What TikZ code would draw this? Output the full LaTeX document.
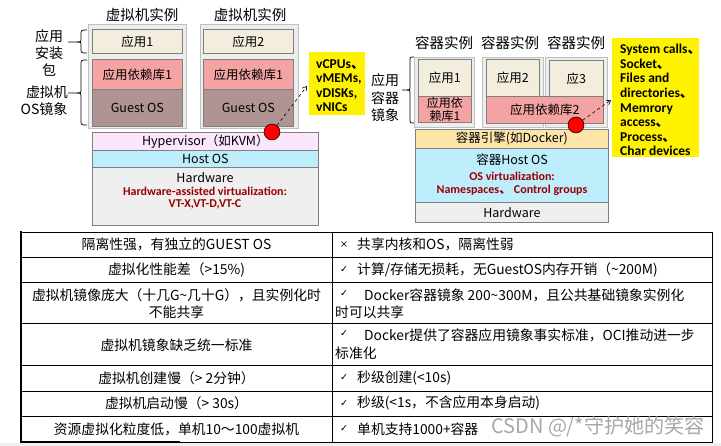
\documentclass[tikz,border=0pt]{standalone}
\usepackage{fontspec}
\setmainfont{Noto Sans CJK SC}
\newfontfamily\calfont{Carlito}
\newfontfamily\cjkfont{Noto Sans CJK SC}
\newfontfamily\symfont{DejaVu Sans}
\usetikzlibrary{arrows.meta}
\definecolor{outerfill}{HTML}{EDEDED}
\definecolor{outerline}{HTML}{C0C0C0}
\definecolor{appfill}{HTML}{F3EDDD}
\definecolor{depfill}{HTML}{F4A3A3}
\definecolor{guestfill}{HTML}{B09393}
\definecolor{hypfill}{HTML}{FCE6FC}
\definecolor{hostfill}{HTML}{BEEDFC}
\definecolor{hwfill}{HTML}{EFEFEF}
\definecolor{engfill}{HTML}{FDE5A9}
\definecolor{darkred}{HTML}{990000}
\definecolor{boxline}{HTML}{7F7F7F}
\definecolor{wmark}{HTML}{A8A8A8}
\tikzset{
  outer/.style={draw=outerline, fill=outerfill, line width=0.9pt, anchor=north west, inner sep=0pt},
  lyr/.style={draw=boxline, line width=0.7pt, anchor=north west, inner sep=0pt, align=center, font=\fontsize{12.5}{14}\selectfont},
  lab/.style={inner sep=0pt, font=\fontsize{14.5}{17}\selectfont},
  side/.style={inner sep=0pt, align=center, font=\fontsize{14}{17}\selectfont},
  ybox/.style={fill=yellow, draw=none, anchor=north west, inner sep=0pt},
  ytxt/.style={font=\calfont\bfseries\fontsize{13.5}{14.6}\selectfont, align=left, anchor=north west, inner sep=0pt},
  rtxt/.style={font=\calfont\bfseries\fontsize{12}{13}\selectfont, text=darkred, inner sep=0pt},
  dot/.style={circle, fill=red, draw=black, line width=0.5pt, minimum size=16pt, inner sep=0pt},
  ptr/.style={dashed, line width=0.6pt, -{Straight Barb[length=4pt,width=5pt]}},
  tline/.style={line width=0.8pt, draw=black},
  tb/.style={inner sep=0pt, font=\fontsize{13.8}{17}\selectfont},
  tbl/.style={tb, anchor=west},
  sym/.style={inner sep=0pt, font=\symfont\fontsize{9.5}{11}\selectfont},
}
\begin{document}
\begin{tikzpicture}[x=1pt,y=-1pt]
\fill[white] (0,0) rectangle (721,446);
\useasboundingbox (0,0) rectangle (721,446);
\fill[hwfill] (0,443) rectangle (721,446);

% ---------------- VM side ----------------
\node[lab] (vml1) at (142,15) {虚拟机实例};
\node[lab] (vml2) at (250,15) {虚拟机实例};
\node[outer, minimum width=98pt, minimum height=104pt] (vm1) at (88,24) {};
\node[outer, minimum width=98pt, minimum height=104pt] (vm2) at (200,24) {};
\node[lyr, fill=appfill, minimum width=90pt, minimum height=24pt] (app1) at (92,29) {应用1};
\node[lyr, fill=depfill, minimum width=90pt, minimum height=30pt] (dep1) at (92,59) {应用依赖库1};
\node[lyr, fill=guestfill, minimum width=90pt, minimum height=37pt] (gos1) at (92,89) {Guest OS};
\node[lyr, fill=appfill, minimum width=90pt, minimum height=24pt] (app2) at (203,29) {应用2};
\node[lyr, fill=depfill, minimum width=90pt, minimum height=30pt] (dep2) at (203,59) {应用依赖库1};
\node[lyr, fill=guestfill, minimum width=90pt, minimum height=37pt] (gos2) at (203,89) {Guest OS};
\node[lyr, fill=hypfill, minimum width=226pt, minimum height=18pt] (hyp) at (92,132) {Hypervisor（如KVM）};
\node[lyr, fill=hostfill, minimum width=226pt, minimum height=17pt] (host) at (92,150) {Host OS};
\node[lyr, fill=hwfill, minimum width=226pt, minimum height=58pt] (hw) at (92,167) {};
\node[inner sep=0pt, font=\fontsize{12.5}{14}\selectfont] (hwt) at (205,178) {Hardware};
\node[rtxt] (hwr1) at (205,191) {Hardware-assisted virtualization:};
\node[rtxt] (hwr2) at (205,204) {VT-X,VT-D,VT-C};

% braces and side labels
\draw[line width=0.7pt] (87,30) .. controls (81,30) .. (81,35) -- (81,38) .. controls (81,42) .. (77,42) -- (68,42);
\draw[line width=0.7pt] (87,53) .. controls (81,53) .. (81,48) -- (81,46) .. controls (81,42) .. (77,42);
\draw[line width=0.7pt] (87,60) .. controls (81,60) .. (81,65) -- (81,88) .. controls (81,93) .. (77,93) -- (68,93);
\draw[line width=0.7pt] (87,125) .. controls (81,125) .. (81,120) -- (81,98) .. controls (81,93) .. (77,93);
\node[side] (s1) at (49,36) {应用};
\node[side] (s2) at (49,53) {安装};
\node[side] (s3) at (49,70) {包};
\node[side] (s4) at (47,92) {虚拟机};
\node[side] (s5) at (44,109) {OS镜象};

% yellow note 1
\node[ybox, minimum width=56pt, minimum height=63pt] (y1) at (309,52) {};
\node[ytxt] (y1t) at (316,59) {vCPUs{\cjkfont 、}\\vMEMs,\\vDISKs,\\vNICs};
\node[dot] (rc1) at (272,132) {};
\coordinate (ya1) at (307,86);
\draw[ptr] (rc1) -- (ya1);

% ---------------- Container side ----------------
\node[lab] (cl1) at (444,43) {容器实例};
\node[lab] (cl2) at (510,43) {容器实例};
\node[lab] (cl3) at (576,43) {容器实例};
\node[outer, minimum width=60pt, minimum height=70pt] (c1) at (414,57) {};
\node[outer, minimum width=61pt, minimum height=70pt] (c2) at (482,57) {};
\node[outer, minimum width=62pt, minimum height=70pt] (c3) at (545,57) {};
\node[lyr, fill=appfill, minimum width=53pt, minimum height=37pt] (capp1) at (418,59) {应用1};
\node[lyr, fill=depfill, minimum width=53pt, minimum height=26pt, font=\fontsize{12}{13.5}\selectfont] (cdep1) at (418,96) {应用依\\赖库1};
\node[lyr, fill=appfill, minimum width=53pt, minimum height=37pt] (capp2) at (486,59) {应用2};
\node[lyr, fill=appfill, minimum width=54pt, minimum height=36pt] (capp3) at (549,60) {应3};
\node[lyr, fill=depfill, minimum width=117pt, minimum height=27pt] (cdep2) at (486,96) {应用依赖库2};
\node[lyr, fill=engfill, minimum width=193pt, minimum height=19pt] (eng) at (415,129) {容器引擎(如Docker)};
\node[lyr, fill=hostfill, minimum width=193pt, minimum height=54pt] (chost) at (415,148) {};
\node[inner sep=0pt, font=\fontsize{12.5}{14}\selectfont] (chostt) at (512,160) {容器Host OS};
\node[rtxt] (chr1) at (512,176) {OS virtualization:};
\node[rtxt] (chr2) at (512,190) {Namespaces{\cjkfont\bfseries 、} Control groups};
\node[lyr, fill=hwfill, minimum width=193pt, minimum height=20pt] (chw) at (415,202) {Hardware};

\draw[line width=0.7pt] (414,57) .. controls (410,57) .. (410,61) -- (410,86) .. controls (410,90) .. (407,90) -- (402,90);
\draw[line width=0.7pt] (414,123) .. controls (410,123) .. (410,119) -- (410,94) .. controls (410,90) .. (407,90);
\node[side] (cs1) at (385,80) {应用};
\node[side] (cs2) at (385,98) {容器};
\node[side] (cs3) at (385,115) {镜象};

% yellow note 2
\node[ybox, minimum width=87pt, minimum height=119pt] (y2) at (612,38) {};
\node[ytxt] (y2t) at (620,44) {System calls{\cjkfont\bfseries 、}\\Socket{\cjkfont\bfseries 、}\\Files and\\directories{\cjkfont\bfseries 、}\\Memrory\\access{\cjkfont\bfseries 、}\\Process{\cjkfont\bfseries 、}\\Char devices};
\node[dot] (rc2) at (576,125) {};
\coordinate (ya2) at (611,100);
\draw[ptr] (rc2) -- (ya2);

% ---------------- Table ----------------
\draw[tline] (21,232) -- (712,232) -- (712,442) -- (21,442);
\draw[line width=1.6pt] (21,231.2) -- (21,442.8);
\draw[line width=1.4pt] (21,442) -- (180,442);
\foreach \yy in {257,282,323,365,391,416} \draw[tline] (21,\yy) -- (712,\yy);
\draw[tline] (332,232) -- (332,442);

\node[tb] (l1) at (176.5,244.5) {隔离性强，有独立的GUEST OS};
\node[tb] (l2) at (176.5,269.5) {虚拟化性能差（>15\%)};
\node[tb] (l3a) at (176.5,295) {虚拟机镜像庞大（十几G\textasciitilde 几十G），且实例化时};
\node[tb] (l3b) at (176.5,312) {不能共享};
\node[tb] (l4) at (176.5,345) {虚拟机镜象缺乏统一标准};
\node[tb] (l5) at (176.5,378) {虚拟机创建慢（> 2分钟）};
\node[tb] (l6) at (176.5,403.5) {虚拟机启动慢（> 30s）};
\node[tb] (l7) at (176.5,429) {资源虚拟化粒度低，单机10～100虚拟机};

\node[sym] (m1) at (344,244.5) {×};
\node[sym] (m2) at (344,269.5) {✓};
\node[sym] (m3) at (344,294) {✓};
\node[sym] (m4) at (344,334) {✓};
\node[sym] (m5) at (344,378) {✓};
\node[sym] (m6) at (344,403.5) {✓};
\node[sym] (m7) at (344,429) {✓};
\node[tbl] (r1) at (357,244.5) {共享内核和OS，隔离性弱};
\node[tbl] (r2) at (357,269.5) {计算/存储无损耗，无GuestOS内存开销（\textasciitilde 200M)};
\node[tbl] (r3a) at (364,295) {Docker容器镜象 200\textasciitilde 300M，且公共基础镜象实例化};
\node[tbl] (r3b) at (335,312) {时可以共享};
\node[tbl] (r4a) at (364,335) {Docker提供了容器应用镜象事实标准，OCI推动进一步};
\node[tbl] (r4b) at (335,353) {标准化};
\node[tbl] (r5) at (357,378) {秒级创建(<10s)};
\node[tbl] (r6) at (357,403.5) {秒级(<1s，不含应用本身启动)};
\node[tbl] (r7) at (357,429) {单机支持1000+容器};

\node[inner sep=0pt, anchor=west, text=wmark, font=\fontsize{20}{22}\selectfont] (wm) at (491,427) {CSDN @/*守护她的笑容};
\end{tikzpicture}
\end{document}
